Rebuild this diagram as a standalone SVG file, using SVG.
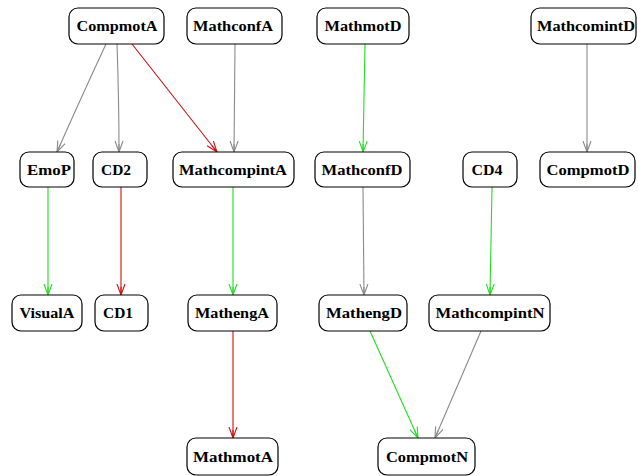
<svg xmlns="http://www.w3.org/2000/svg" width="638" height="476" viewBox="0 0 638 476">
<style>
.n rect{fill:#fff;stroke:#000;stroke-width:1.2}
.n text{font-family:"Liberation Serif","Times New Roman",serif;font-weight:bold;font-size:15px;text-anchor:middle;fill:#000}
.e path{fill:none;stroke-width:1.1}
.g{stroke:#8a8a8a}
.r{stroke:#d01010}
.gr{stroke:#22dd22}
</style>
<defs>
<marker id="ag" markerWidth="12" markerHeight="10" refX="11" refY="5" orient="auto" markerUnits="userSpaceOnUse"><path d="M0,1 L11,5 L0,9 M3,5 L11,5" fill="none" stroke="#8a8a8a" stroke-width="1.1"/></marker>
<marker id="ar" markerWidth="12" markerHeight="10" refX="11" refY="5" orient="auto" markerUnits="userSpaceOnUse"><path d="M0,1 L11,5 L0,9 M3,5 L11,5" fill="none" stroke="#d01010" stroke-width="1.1"/></marker>
<marker id="agr" markerWidth="12" markerHeight="10" refX="11" refY="5" orient="auto" markerUnits="userSpaceOnUse"><path d="M0,1 L11,5 L0,9 M3,5 L11,5" fill="none" stroke="#22dd22" stroke-width="1.1"/></marker>
</defs>
<rect width="638" height="476" fill="#fff"/>
<g id="edges" class="e">
<path class="g" d="M106,44 Q80,100 57,152" marker-end="url(#ag)"/>
<path class="g" d="M117,44 Q119,100 119,152" marker-end="url(#ag)"/>
<path class="r" d="M132,44 L217,152" marker-end="url(#ar)"/>
<path class="g" d="M235,44 L234,152" marker-end="url(#ag)"/>
<path class="gr" d="M365,44 L363,152" marker-end="url(#agr)"/>
<path class="g" d="M587,44 L587,152" marker-end="url(#ag)"/>
<path class="gr" d="M48,187 L48,295" marker-end="url(#agr)"/>
<path class="r" d="M121,187 L121,295" marker-end="url(#ar)"/>
<path class="gr" d="M233,187 L233,295" marker-end="url(#agr)"/>
<path class="g" d="M363,187 L364,295" marker-end="url(#ag)"/>
<path class="gr" d="M492,187 L490,295" marker-end="url(#agr)"/>
<path class="r" d="M233,331 L233,438" marker-end="url(#ar)"/>
<path class="gr" d="M370,331 L418,438" marker-end="url(#agr)"/>
<path class="g" d="M481,331 L435,438" marker-end="url(#ag)"/>
</g>
<g id="CompmotA" class="n"><rect x="69" y="8" width="95" height="36" rx="9"/><text x="117" y="31" textLength="81" lengthAdjust="spacingAndGlyphs">CompmotA</text></g>
<g id="MathconfA" class="n"><rect x="187" y="8" width="95" height="36" rx="9"/><text x="233" y="31" textLength="80" lengthAdjust="spacingAndGlyphs">MathconfA</text></g>
<g id="MathmotD" class="n"><rect x="317" y="8" width="92" height="36" rx="9"/><text x="363" y="31" textLength="77" lengthAdjust="spacingAndGlyphs">MathmotD</text></g>
<g id="MathcomintD" class="n"><rect x="531" y="8" width="105" height="36" rx="9"/><text x="586" y="31" textLength="98" lengthAdjust="spacingAndGlyphs">MathcomintD</text></g>
<g id="EmoP" class="n"><rect x="20" y="152" width="54" height="35" rx="9"/><text x="49" y="175" textLength="44" lengthAdjust="spacingAndGlyphs">EmoP</text></g>
<g id="CD2" class="n"><rect x="93" y="152" width="54" height="35" rx="9"/><text x="116" y="175" textLength="30" lengthAdjust="spacingAndGlyphs">CD2</text></g>
<g id="MathcompintA" class="n"><rect x="173" y="152" width="121" height="35" rx="9"/><text x="233" y="175" textLength="108" lengthAdjust="spacingAndGlyphs">MathcompintA</text></g>
<g id="MathconfD" class="n"><rect x="315" y="152" width="95" height="35" rx="9"/><text x="362" y="175" textLength="81" lengthAdjust="spacingAndGlyphs">MathconfD</text></g>
<g id="CD4" class="n"><rect x="463" y="152" width="54" height="35" rx="9"/><text x="487" y="175" textLength="31" lengthAdjust="spacingAndGlyphs">CD4</text></g>
<g id="CompmotD" class="n"><rect x="540" y="152" width="95" height="35" rx="9"/><text x="588" y="175" textLength="83" lengthAdjust="spacingAndGlyphs">CompmotD</text></g>
<g id="VisualA" class="n"><rect x="12" y="295" width="70" height="36" rx="9"/><text x="47" y="318" textLength="55" lengthAdjust="spacingAndGlyphs">VisualA</text></g>
<g id="CD1" class="n"><rect x="95" y="295" width="53" height="36" rx="9"/><text x="118" y="318" textLength="30" lengthAdjust="spacingAndGlyphs">CD1</text></g>
<g id="MathengA" class="n"><rect x="188" y="295" width="89" height="36" rx="9"/><text x="232" y="318" textLength="74" lengthAdjust="spacingAndGlyphs">MathengA</text></g>
<g id="MathengD" class="n"><rect x="319" y="295" width="88" height="36" rx="9"/><text x="364" y="318" textLength="76" lengthAdjust="spacingAndGlyphs">MathengD</text></g>
<g id="MathcompintN" class="n"><rect x="429" y="295" width="121" height="36" rx="9"/><text x="490" y="318" textLength="109" lengthAdjust="spacingAndGlyphs">MathcompintN</text></g>
<g id="MathmotA" class="n"><rect x="187" y="438" width="91" height="37" rx="9"/><text x="233" y="462" textLength="80" lengthAdjust="spacingAndGlyphs">MathmotA</text></g>
<g id="CompmotN" class="n"><rect x="378" y="438" width="97" height="37" rx="9"/><text x="427" y="462" textLength="82" lengthAdjust="spacingAndGlyphs">CompmotN</text></g>
</svg>
